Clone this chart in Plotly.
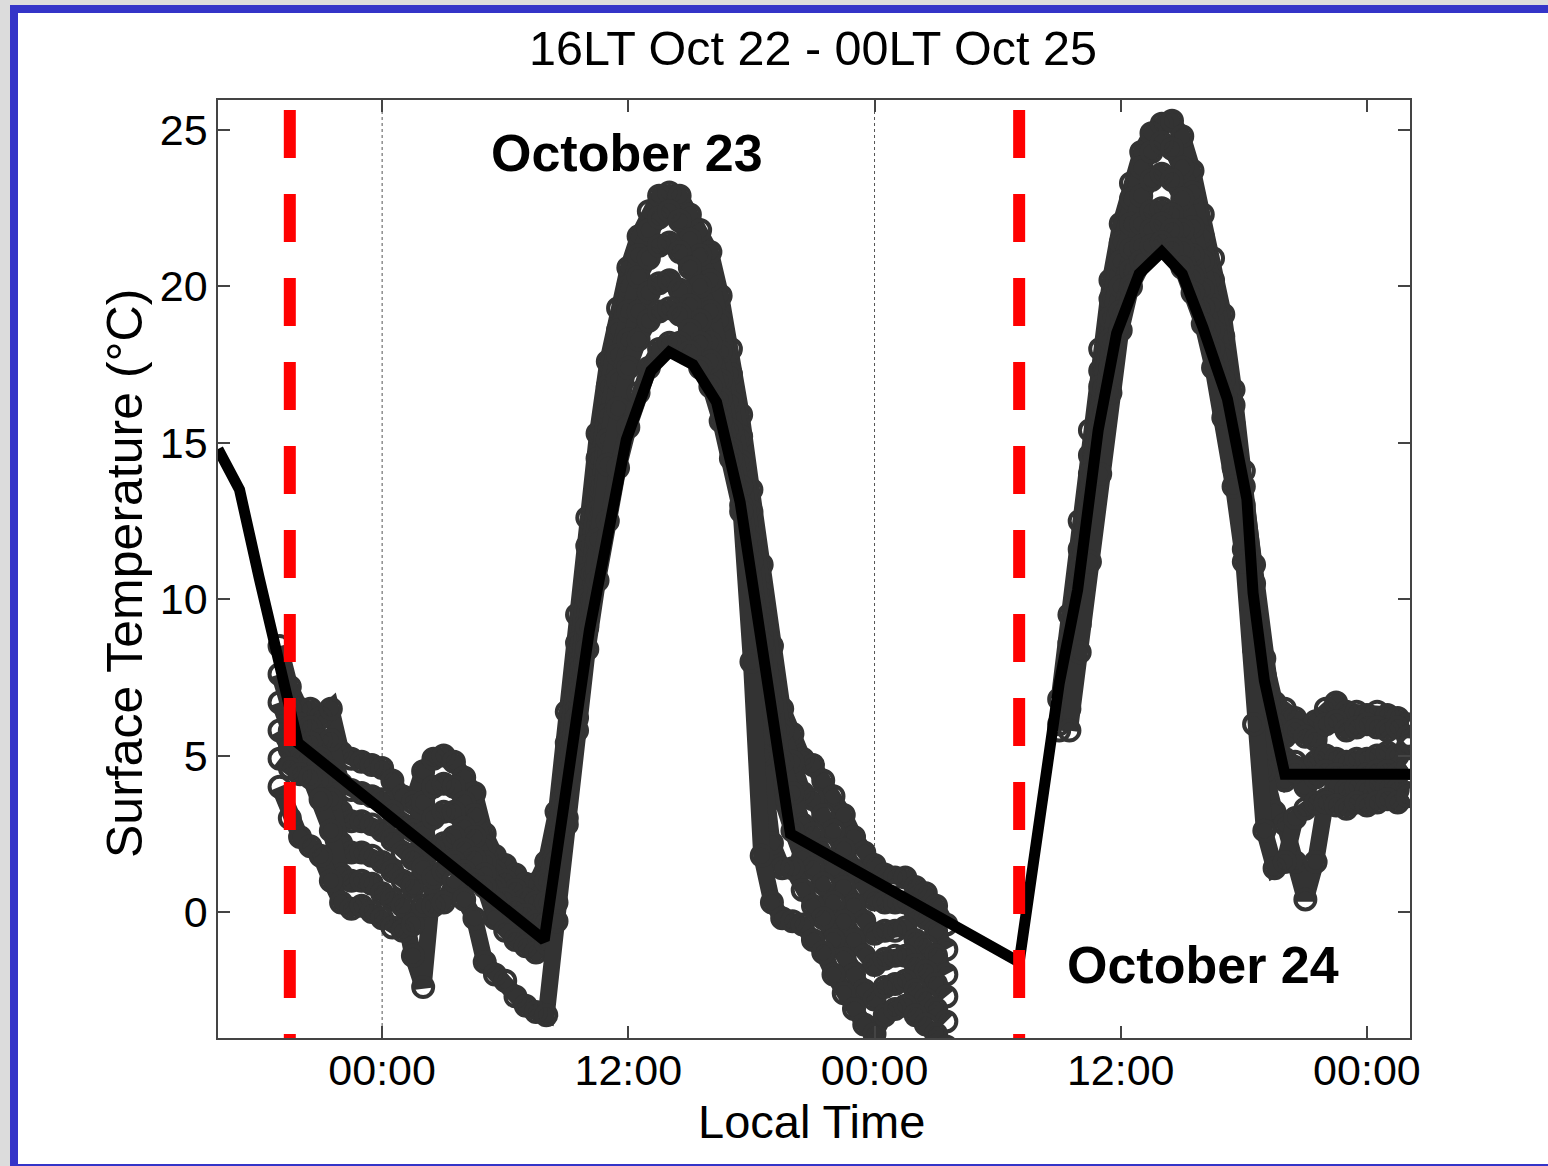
import plotly.graph_objects as go

# ---------------- data ----------------
# time in hours since 00LT Oct 22
TIME_A = [19.0, 19.5, 20.0, 20.5, 21.0, 21.5, 22.0, 22.5, 23.0, 23.5, 24.0, 24.5, 25.0, 25.5,
          26.0, 26.5, 27.0, 27.5, 28.0, 28.5, 29.0, 29.5, 30.0, 30.5, 31.0, 31.5, 32.0,
          32.5, 33.0, 33.5, 34.0, 34.5, 35.0, 35.5, 36.0, 36.5, 37.0, 37.5, 38.0, 38.5, 39.0,
          39.5, 40.0, 40.5, 41.0, 41.5, 42.0, 42.5, 43.0, 43.5, 44.0,
          44.5, 45.0, 45.5, 46.0, 46.5, 47.0, 47.5, 48.0, 48.5, 49.0, 49.5, 50.0, 50.5, 51.0, 51.5]
TIME_B = [57.0, 57.5, 58.0, 58.5, 59.0, 59.5, 60.0, 60.5, 61.0, 61.5, 62.0, 62.5, 63.0,
          63.5, 64.0, 64.5, 65.0, 65.5, 66.0, 66.5, 67.0, 67.5, 68.0,
          68.5, 69.0, 69.5, 70.0, 70.5, 71.0, 71.5, 72.0, 72.5, 73.0, 73.5, 74.0]

S1_A = [8.5, 7.2, 6.5, 6.5, 6.2, 6.5, 5.1, 4.9, 4.8, 4.7, 4.6, 4.2, 3.7, 3.5, 4.5, 4.9, 5.0, 4.8, 4.3, 3.8, 2.5, 1.8, 1.5, 1.2, 0.9, 0.9, 1.6,
        3.2, 6.4, 9.5, 12.6, 15.3, 17.6, 19.3, 20.6, 21.6, 22.4, 22.9, 23.0, 22.9, 22.3,
        21.8, 21.1, 19.7, 18.0, 15.9, 13.5, 11.1, 8.5, 6.5, 5.7,
        4.9, 4.7, 4.2, 3.7, 3.1, 2.4, 1.9, 1.5, 1.2, 1.1, 1.1, 0.8, 0.6, 0.2, -0.4]
S2_A = [7.6, 6.5, 6.0, 5.9, 5.5, 5.5, 4.1, 3.9, 3.8, 3.7, 3.6, 3.2, 2.8, 2.6, 3.5, 4.0, 4.1, 4.0, 3.5, 3.1, 2.1, 1.3, 1.0, 0.7, 0.4, 0.3, 1.0,
        2.4, 5.4, 8.6, 11.7, 14.5, 16.8, 18.6, 20.0, 21.0, 21.8, 22.2, 22.4, 22.1, 21.5,
        21.0, 20.2, 18.9, 17.2, 15.2, 12.8, 10.2, 7.6, 5.8, 4.8,
        3.8, 3.6, 3.1, 2.6, 2.0, 1.3, 0.8, 0.4, 0.3, 0.3, 0.3, 0.0, -0.2, -0.6, -1.2]
S3_A = [6.7, 5.8, 5.4, 5.4, 4.9, 4.5, 3.2, 2.9, 2.9, 2.8, 2.6, 2.3, 1.9, 1.7, 2.5, 3.0, 3.2, 3.2, 2.7, 2.4, 1.6, 0.8, 0.4, 0.1, -0.1, -0.3, 0.3,
        1.6, 4.6, 7.8, 10.8, 13.6, 15.9, 17.8, 19.2, 20.3, 20.9, 21.3, 21.4, 21.1, 20.6,
        20.0, 19.2, 17.9, 16.3, 14.4, 12.0, 9.4, 6.6, 4.8, 3.8,
        2.8, 2.5, 2.0, 1.4, 0.8, 0.2, -0.3, -0.7, -0.6, -0.6, -0.5, -0.9, -1.1, -1.4, -2.0]
S4_A = [5.8, 5.2, 4.9, 4.8, 4.2, 3.6, 2.2, 1.9, 1.9, 1.8, 1.6, 1.3, 1.0, 0.8, 1.4, 2.0, 2.2, 2.4, 2.0, 1.7, 1.2, 0.3, -0.1, -0.4, -0.6, -0.8, -0.4,
        0.9, 3.8, 7.0, 10.0, 12.8, 15.1, 17.0, 18.3, 19.2, 19.8, 20.1, 20.2, 19.9, 19.4,
        18.9, 18.2, 17.0, 15.4, 13.6, 11.2, 8.6, 5.6, 3.6, 2.6,
        1.7, 1.4, 0.9, 0.3, -0.3, -0.9, -1.4, -1.7, -1.5, -1.4, -1.4, -1.7, -1.9, -2.3, -2.7]
S5_A = [4.9, 4.6, 4.4, 4.3, 3.6, 2.6, 1.2, 1.0, 1.0, 0.9, 0.6, 0.4, 0.2, -1.4, -2.4, 1.1, 1.3, 1.6, 1.3, 1.0, 0.8, -0.2, -0.6, -0.9, -1.1, -1.3, -1.0,
        0.3, 3.0, 6.2, 9.1, 11.9, 14.3, 16.1, 17.4, 18.3, 18.9, 19.2, 19.3, 19.1, 18.6,
        18.2, 17.6, 16.4, 14.8, 13.0, 10.0, 5.0, 2.2, 1.4, 1.4,
        0.7, 0.2, -0.2, -0.9, -1.5, -2.0, -2.5, -2.8, -2.4, -2.3, -2.2, -2.5, -2.8, -3.1, -3.5]
S6_A = [4.0, 3.0, 2.4, 2.1, 1.8, 1.0, 0.3, 0.1, 0.2, 0.0, -0.2, -0.5, -0.6, -0.4, 0.2, 0.2, 0.3, 1.0, 0.4, -0.2, -1.6, -2.0, -2.2, -2.7, -3.0, -3.2, -3.3,
        -0.3, 2.8, 5.8, 8.4, 10.6, 12.5, 14.2, 15.5, 16.6, 17.4, 18.0, 18.2, 18.2, 17.9,
        17.4, 16.8, 15.7, 14.5, 12.8, 8.0, 1.8, 0.3, -0.2, -0.3,
        -0.4, -0.9, -1.3, -2.0, -2.6, -3.1, -3.6, -3.9, -3.3, -3.1, -3.0, -3.3, -3.6, -3.9, -4.3]

S1_B = [6.8, 9.5, 12.5, 15.4, 18.0, 20.2, 22.0, 23.3, 24.3, 24.9, 25.2, 25.3, 24.8,
        23.7, 22.3, 20.9, 19.1, 16.7, 14.1, 11.1, 8.1, 6.7, 6.5,
        6.2, 5.8, 6.1, 6.5, 6.7, 6.4, 6.4, 6.3, 6.4, 6.3, 6.2, 6.0]
S2_B = [6.0, 8.6, 11.6, 14.6, 17.3, 19.6, 21.4, 22.8, 23.8, 24.3, 24.6, 24.4, 23.8,
        23.0, 21.6, 20.2, 18.4, 16.2, 13.6, 10.5, 7.6, 6.0, 5.6,
        5.8, 5.6, 5.5, 6.0, 6.1, 5.8, 5.9, 6.0, 5.9, 5.8, 5.9, 5.6]
S3_B = [5.8, 8.0, 11.0, 14.0, 16.8, 19.0, 20.8, 22.0, 22.9, 23.4, 23.6, 23.4, 22.8,
        21.9, 20.8, 19.4, 17.8, 15.6, 13.0, 9.8, 7.0, 5.2, 4.9,
        4.8, 4.6, 4.8, 5.0, 4.9, 4.8, 4.9, 4.9, 5.0, 5.1, 5.0, 5.3]
S4_B = [None, 7.4, 10.2, 13.2, 16.0, 18.3, 20.0, 21.2, 22.0, 22.4, 22.5, 22.3, 21.8,
        21.0, 19.9, 18.6, 17.0, 14.8, 12.2, 9.2, 6.4, 4.6, 4.2,
        4.5, 4.0, 4.3, 4.5, 4.4, 4.3, 4.3, 4.4, 4.5, 4.5, 4.4, 4.6]
S5_B = [None, 6.5, 9.2, 12.2, 15.0, 17.4, 19.2, 20.5, 21.3, 21.8, 22.0, 21.8, 21.2,
        20.3, 19.3, 18.0, 16.3, 14.2, 11.6, 8.4, 4.5, 3.2, 2.8,
        1.6, 0.4, 1.6, 3.6, 4.0, 3.9, 4.0, 3.9, 4.1, 4.0, 3.9, 3.8]
S6_B = [None, 5.8, 8.3, 11.2, 14.0, 16.6, 18.6, 20.0, 20.8, 21.3, 21.4, 21.2, 20.6,
        19.8, 18.8, 17.4, 15.8, 13.6, 11.2, 6.0, 2.6, 1.4, 1.6,
        3.0, 3.3, 3.5, 3.5, 3.4, 3.3, 3.5, 3.4, 3.5, 3.6, 3.5, 3.7]

MEAN_T = [16.0, 17.05, 18.0, 19.3, 19.9, 31.9, 33.0, 34.1, 35.9, 37.1, 38.0, 39.15, 40.3, 41.45, 42.4, 43.9,
          55.05, 56.0, 57.0, 57.9, 58.9, 59.8, 60.9, 62.0, 63.0, 64.0, 65.2, 66.15, 66.45, 67.0, 68.0, 74.1]
MEAN_V = [14.8, 13.5, 10.7, 6.8, 5.4, -0.9, 3.8, 9.0, 15.1, 17.3, 17.9, 17.5, 16.3, 13.1, 9.0, 2.5,
          -1.6, 3.0, 7.3, 10.3, 15.4, 18.5, 20.4, 21.1, 20.4, 18.7, 16.4, 13.2, 10.2, 7.4, 4.4, 4.4]

OVERPASS_T = [19.5, 55.05]
MIDNIGHT_T = [24, 48]
TICK_VALS = [24, 36, 48, 60, 72]
TICK_TEXT = ["00:00", "12:00", "00:00", "12:00", "00:00"]
Y_TICKS = [0, 5, 10, 15, 20, 25]
X_RANGE = [16.0, 74.1]
Y_RANGE = [-4.03, 25.96]

FONT = "Arial, Liberation Sans, sans-serif"
GREY = "#333333"

fig = go.Figure()

# midnight dotted lines
for t in MIDNIGHT_T:
    fig.add_trace(go.Scatter(x=[t, t], y=Y_RANGE, mode="lines",
                             line=dict(color="#555555", width=1, dash="dot"),
                             hoverinfo="skip", showlegend=False))

series = [(S1_A, S1_B), (S2_A, S2_B), (S3_A, S3_B), (S4_A, S4_B), (S5_A, S5_B), (S6_A, S6_B)]
for a, b in series:
    fig.add_trace(go.Scatter(
        x=TIME_A + [None] + TIME_B, y=a + [None] + b,
        mode="lines+markers",
        line=dict(color=GREY, width=17),
        marker=dict(symbol="circle-open", size=20, color=GREY, line=dict(color=GREY, width=4)),
        connectgaps=False, showlegend=False, hoverinfo="skip"))

fig.add_trace(go.Scatter(x=MEAN_T, y=MEAN_V, mode="lines",
                         line=dict(color="black", width=11),
                         showlegend=False, hoverinfo="skip"))

for t in OVERPASS_T:
    fig.add_trace(go.Scatter(x=[t, t], y=[25.64, Y_RANGE[0]], mode="lines",
                             line=dict(color="#ff0000", width=12, dash="48px,36px"),
                             showlegend=False, hoverinfo="skip"))

axis_common = dict(showgrid=False, zeroline=False, showline=True, mirror="ticks",
                   linecolor="#444444", linewidth=1.5, ticks="inside", ticklen=12,
                   tickwidth=1.5, tickcolor="#444444",
                   tickfont=dict(family=FONT, size=43, color="black"))
fig.update_xaxes(range=X_RANGE, tickvals=TICK_VALS, ticktext=TICK_TEXT,
                 ticklabelstandoff=-6, **axis_common)
fig.update_yaxes(range=Y_RANGE, tickvals=Y_TICKS, **axis_common)


def px_x(px):
    return (px - 218) / 1192.0


def px_y(py):
    return (1038 - py) / 938.0


annotations = [
    dict(text="16LT Oct 22 - 00LT Oct 25", x=px_x(813), y=px_y(48), xref="paper", yref="paper",
         showarrow=False, font=dict(family=FONT, size=48.5, color="black"), xanchor="center", yanchor="middle"),
    dict(text="Local Time", x=px_x(811), y=px_y(1121), xref="paper", yref="paper",
         showarrow=False, font=dict(family=FONT, size=47, color="black"), xanchor="center", yanchor="middle"),
    dict(text="Surface Temperature (°C)", x=px_x(125), y=px_y(574), xref="paper", yref="paper",
         showarrow=False, textangle=-90, font=dict(family=FONT, size=50, color="black"),
         xanchor="center", yanchor="middle"),
    dict(text="<b>October 23</b>", x=35.94, y=24.27, xref="x", yref="y", showarrow=False,
         font=dict(family=FONT, size=52, color="black"), xanchor="center", yanchor="middle"),
    dict(text="<b>October 24</b>", x=64.0, y=-1.7, xref="x", yref="y", showarrow=False,
         font=dict(family=FONT, size=52, color="black"), xanchor="center", yanchor="middle"),
]

shapes = [
    # outer light-grey strip (left + top)
    dict(type="rect", xref="paper", yref="paper", x0=px_x(0), x1=px_x(10), y0=px_y(1170), y1=px_y(-5),
         fillcolor="#dcdcdc", line=dict(width=0), layer="above"),
    dict(type="rect", xref="paper", yref="paper", x0=px_x(0), x1=px_x(1552), y0=px_y(5), y1=px_y(-5),
         fillcolor="#dcdcdc", line=dict(width=0), layer="above"),
    # blue frame
    dict(type="rect", xref="paper", yref="paper", x0=px_x(10), x1=px_x(18), y0=px_y(1170), y1=px_y(5),
         fillcolor="#3434c8", line=dict(width=0), layer="above"),
    dict(type="rect", xref="paper", yref="paper", x0=px_x(10), x1=px_x(1552), y0=px_y(13), y1=px_y(5),
         fillcolor="#3434c8", line=dict(width=0), layer="above"),
    dict(type="rect", xref="paper", yref="paper", x0=px_x(10), x1=px_x(1552), y0=px_y(1170), y1=px_y(1164),
         fillcolor="#3434c8", line=dict(width=0), layer="above"),
]

fig.update_layout(
    width=1548, height=1166,
    margin=dict(l=218, r=138, t=100, b=128, pad=0),
    paper_bgcolor="white", plot_bgcolor="white",
    showlegend=False,
    annotations=annotations, shapes=shapes,
)

fig.write_html("out.html")
